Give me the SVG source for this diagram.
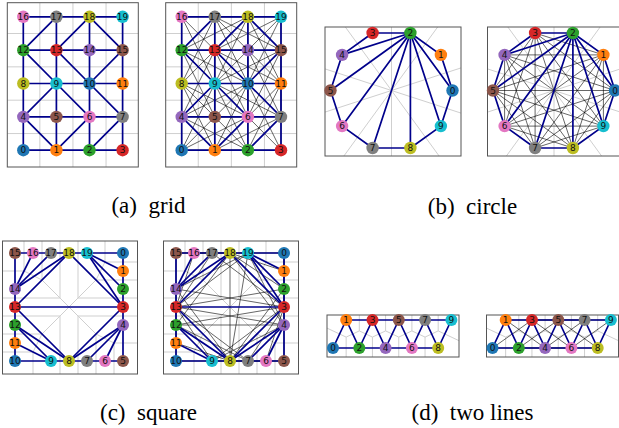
<svg xmlns="http://www.w3.org/2000/svg" width="619" height="428" viewBox="0 0 619 428">
<style>
.fr{fill:none;stroke:#555;stroke-width:1}
.gl{stroke:#cfcfcf;stroke-width:1;fill:none}
.be line{stroke:#00008b;stroke-width:1.7;stroke-linecap:round}
.ke line{stroke:#000;stroke-width:0.7;opacity:0.85}
.lb{font-family:"DejaVu Sans",sans-serif;font-size:9px;text-anchor:middle;dominant-baseline:central;fill:#111}
.cap{font-family:"Liberation Serif","Times New Roman",serif;font-size:23px;text-anchor:middle;fill:#000}
.c0{fill:#1f77b4}.c1{fill:#ff7f0e}.c2{fill:#2ca02c}.c3{fill:#d62728}.c4{fill:#9467bd}
.c5{fill:#8c564b}.c6{fill:#e377c2}.c7{fill:#7f7f7f}.c8{fill:#bcbd22}.c9{fill:#17becf}
</style>
<defs>
<clipPath id="clipB" clipPathUnits="userSpaceOnUse"><rect x="325" y="27" width="136" height="129"/></clipPath>
</defs>

<!-- ================= (a) grid, left ================= -->
<g id="panel-a1">
<g id="a1-voronoi" class="gl">
<line x1="39.85" y1="3" x2="39.85" y2="167"/><line x1="72.95" y1="3" x2="72.95" y2="167"/><line x1="106.05" y1="3" x2="106.05" y2="167"/>
<line x1="7.3" y1="133.55" x2="138.3" y2="133.55"/><line x1="7.3" y1="100.2" x2="138.3" y2="100.2"/><line x1="7.3" y1="66.85" x2="138.3" y2="66.85"/><line x1="7.3" y1="33.5" x2="138.3" y2="33.5"/>
</g>
<rect class="fr" x="7.3" y="2.7" width="131" height="164.3"/>
<g id="a1-edges" class="be">
<line x1="23.3" y1="150.2" x2="56.4" y2="150.2"/><line x1="56.4" y1="150.2" x2="89.5" y2="150.2"/><line x1="89.5" y1="150.2" x2="122.6" y2="150.2"/>
<line x1="23.3" y1="116.9" x2="56.4" y2="116.9"/><line x1="56.4" y1="116.9" x2="89.5" y2="116.9"/><line x1="89.5" y1="116.9" x2="122.6" y2="116.9"/>
<line x1="23.3" y1="83.5" x2="56.4" y2="83.5"/><line x1="56.4" y1="83.5" x2="89.5" y2="83.5"/><line x1="89.5" y1="83.5" x2="122.6" y2="83.5"/>
<line x1="23.3" y1="50.2" x2="56.4" y2="50.2"/><line x1="56.4" y1="50.2" x2="89.5" y2="50.2"/><line x1="89.5" y1="50.2" x2="122.6" y2="50.2"/>
<line x1="23.3" y1="16.8" x2="56.4" y2="16.8"/><line x1="56.4" y1="16.8" x2="89.5" y2="16.8"/><line x1="89.5" y1="16.8" x2="122.6" y2="16.8"/>
<line x1="23.3" y1="150.2" x2="23.3" y2="116.9"/><line x1="23.3" y1="116.9" x2="23.3" y2="83.5"/><line x1="23.3" y1="83.5" x2="23.3" y2="50.2"/><line x1="23.3" y1="50.2" x2="23.3" y2="16.8"/>
<line x1="56.4" y1="150.2" x2="56.4" y2="116.9"/><line x1="56.4" y1="116.9" x2="56.4" y2="83.5"/><line x1="56.4" y1="83.5" x2="56.4" y2="50.2"/><line x1="56.4" y1="50.2" x2="56.4" y2="16.8"/>
<line x1="89.5" y1="150.2" x2="89.5" y2="116.9"/><line x1="89.5" y1="116.9" x2="89.5" y2="83.5"/><line x1="89.5" y1="83.5" x2="89.5" y2="50.2"/><line x1="89.5" y1="50.2" x2="89.5" y2="16.8"/>
<line x1="122.6" y1="150.2" x2="122.6" y2="116.9"/><line x1="122.6" y1="116.9" x2="122.6" y2="83.5"/><line x1="122.6" y1="83.5" x2="122.6" y2="50.2"/><line x1="122.6" y1="50.2" x2="122.6" y2="16.8"/>
<line x1="56.4" y1="16.8" x2="23.3" y2="50.2"/><line x1="89.5" y1="16.8" x2="56.4" y2="50.2"/><line x1="89.5" y1="16.8" x2="122.6" y2="50.2"/>
<line x1="23.3" y1="50.2" x2="56.4" y2="83.5"/><line x1="56.4" y1="50.2" x2="89.5" y2="83.5"/><line x1="122.6" y1="50.2" x2="89.5" y2="83.5"/>
<line x1="56.4" y1="83.5" x2="23.3" y2="116.9"/><line x1="56.4" y1="83.5" x2="89.5" y2="116.9"/><line x1="89.5" y1="83.5" x2="122.6" y2="116.9"/>
<line x1="23.3" y1="116.9" x2="56.4" y2="150.2"/><line x1="89.5" y1="116.9" x2="56.4" y2="150.2"/><line x1="122.6" y1="116.9" x2="89.5" y2="150.2"/>
</g>
<g id="a1-nodes">
<g id="a1-n0"><circle class="c0" cx="23.3" cy="150.2" r="6.2"/><text class="lb" x="23.3" y="150.2">0</text></g>
<g id="a1-n1"><circle class="c1" cx="56.4" cy="150.2" r="6.2"/><text class="lb" x="56.4" y="150.2">1</text></g>
<g id="a1-n2"><circle class="c2" cx="89.5" cy="150.2" r="6.2"/><text class="lb" x="89.5" y="150.2">2</text></g>
<g id="a1-n3"><circle class="c3" cx="122.6" cy="150.2" r="6.2"/><text class="lb" x="122.6" y="150.2">3</text></g>
<g id="a1-n4"><circle class="c4" cx="23.3" cy="116.9" r="6.2"/><text class="lb" x="23.3" y="116.9">4</text></g>
<g id="a1-n5"><circle class="c5" cx="56.4" cy="116.9" r="6.2"/><text class="lb" x="56.4" y="116.9">5</text></g>
<g id="a1-n6"><circle class="c6" cx="89.5" cy="116.9" r="6.2"/><text class="lb" x="89.5" y="116.9">6</text></g>
<g id="a1-n7"><circle class="c7" cx="122.6" cy="116.9" r="6.2"/><text class="lb" x="122.6" y="116.9">7</text></g>
<g id="a1-n8"><circle class="c8" cx="23.3" cy="83.5" r="6.2"/><text class="lb" x="23.3" y="83.5">8</text></g>
<g id="a1-n9"><circle class="c9" cx="56.4" cy="83.5" r="6.2"/><text class="lb" x="56.4" y="83.5">9</text></g>
<g id="a1-n10"><circle class="c0" cx="89.5" cy="83.5" r="6.2"/><text class="lb" x="89.5" y="83.5">10</text></g>
<g id="a1-n11"><circle class="c1" cx="122.6" cy="83.5" r="6.2"/><text class="lb" x="122.6" y="83.5">11</text></g>
<g id="a1-n12"><circle class="c2" cx="23.3" cy="50.2" r="6.2"/><text class="lb" x="23.3" y="50.2">12</text></g>
<g id="a1-n13"><circle class="c3" cx="56.4" cy="50.2" r="6.2"/><text class="lb" x="56.4" y="50.2">13</text></g>
<g id="a1-n14"><circle class="c4" cx="89.5" cy="50.2" r="6.2"/><text class="lb" x="89.5" y="50.2">14</text></g>
<g id="a1-n15"><circle class="c5" cx="122.6" cy="50.2" r="6.2"/><text class="lb" x="122.6" y="50.2">15</text></g>
<g id="a1-n16"><circle class="c6" cx="23.3" cy="16.8" r="6.2"/><text class="lb" x="23.3" y="16.8">16</text></g>
<g id="a1-n17"><circle class="c7" cx="56.4" cy="16.8" r="6.2"/><text class="lb" x="56.4" y="16.8">17</text></g>
<g id="a1-n18"><circle class="c8" cx="89.5" cy="16.8" r="6.2"/><text class="lb" x="89.5" y="16.8">18</text></g>
<g id="a1-n19"><circle class="c9" cx="122.6" cy="16.8" r="6.2"/><text class="lb" x="122.6" y="16.8">19</text></g>
</g>
</g>

<!-- ================= (a) grid, right ================= -->
<g id="panel-a2" transform="translate(158.4,0)">
<g id="a2-voronoi" class="gl">
<line x1="39.85" y1="3" x2="39.85" y2="167"/><line x1="72.95" y1="3" x2="72.95" y2="167"/><line x1="106.05" y1="3" x2="106.05" y2="167"/>
<line x1="7.3" y1="133.55" x2="138.3" y2="133.55"/><line x1="7.3" y1="100.2" x2="138.3" y2="100.2"/><line x1="7.3" y1="66.85" x2="138.3" y2="66.85"/><line x1="7.3" y1="33.5" x2="138.3" y2="33.5"/>
</g>
<rect class="fr" x="7.3" y="2.7" width="131" height="164.3"/>
<g id="a2-edges">
<g class="ke">
<line x1="23.3" y1="150.2" x2="89.5" y2="150.2"/><line x1="23.3" y1="150.2" x2="56.4" y2="116.9"/><line x1="23.3" y1="150.2" x2="89.5" y2="116.9"/><line x1="23.3" y1="150.2" x2="23.3" y2="83.5"/><line x1="23.3" y1="150.2" x2="56.4" y2="83.5"/>
<line x1="56.4" y1="150.2" x2="122.6" y2="150.2"/><line x1="56.4" y1="150.2" x2="122.6" y2="116.9"/><line x1="56.4" y1="150.2" x2="23.3" y2="83.5"/><line x1="56.4" y1="150.2" x2="56.4" y2="83.5"/><line x1="56.4" y1="150.2" x2="89.5" y2="83.5"/>
<line x1="89.5" y1="150.2" x2="23.3" y2="116.9"/><line x1="89.5" y1="150.2" x2="56.4" y2="116.9"/><line x1="89.5" y1="150.2" x2="56.4" y2="83.5"/><line x1="89.5" y1="150.2" x2="89.5" y2="83.5"/><line x1="89.5" y1="150.2" x2="122.6" y2="83.5"/>
<line x1="122.6" y1="150.2" x2="89.5" y2="116.9"/><line x1="122.6" y1="150.2" x2="89.5" y2="83.5"/><line x1="122.6" y1="150.2" x2="122.6" y2="83.5"/>
<line x1="23.3" y1="116.9" x2="89.5" y2="116.9"/><line x1="23.3" y1="116.9" x2="89.5" y2="83.5"/><line x1="23.3" y1="116.9" x2="23.3" y2="50.2"/><line x1="23.3" y1="116.9" x2="56.4" y2="50.2"/>
<line x1="56.4" y1="116.9" x2="122.6" y2="116.9"/><line x1="56.4" y1="116.9" x2="23.3" y2="83.5"/><line x1="56.4" y1="116.9" x2="89.5" y2="83.5"/><line x1="56.4" y1="116.9" x2="23.3" y2="50.2"/><line x1="56.4" y1="116.9" x2="56.4" y2="50.2"/>
<line x1="89.5" y1="116.9" x2="23.3" y2="83.5"/><line x1="89.5" y1="116.9" x2="122.6" y2="83.5"/><line x1="89.5" y1="116.9" x2="23.3" y2="50.2"/><line x1="89.5" y1="116.9" x2="56.4" y2="50.2"/><line x1="89.5" y1="116.9" x2="89.5" y2="50.2"/><line x1="89.5" y1="116.9" x2="122.6" y2="50.2"/>
<line x1="122.6" y1="116.9" x2="56.4" y2="83.5"/><line x1="122.6" y1="116.9" x2="56.4" y2="50.2"/><line x1="122.6" y1="116.9" x2="89.5" y2="50.2"/><line x1="122.6" y1="116.9" x2="122.6" y2="50.2"/>
<line x1="23.3" y1="83.5" x2="89.5" y2="83.5"/><line x1="23.3" y1="83.5" x2="56.4" y2="50.2"/><line x1="23.3" y1="83.5" x2="23.3" y2="16.8"/><line x1="23.3" y1="83.5" x2="56.4" y2="16.8"/>
<line x1="56.4" y1="83.5" x2="122.6" y2="83.5"/><line x1="56.4" y1="83.5" x2="89.5" y2="50.2"/><line x1="56.4" y1="83.5" x2="122.6" y2="50.2"/><line x1="56.4" y1="83.5" x2="23.3" y2="16.8"/><line x1="56.4" y1="83.5" x2="56.4" y2="16.8"/><line x1="56.4" y1="83.5" x2="89.5" y2="16.8"/>
<line x1="89.5" y1="83.5" x2="23.3" y2="50.2"/><line x1="89.5" y1="83.5" x2="56.4" y2="16.8"/><line x1="89.5" y1="83.5" x2="89.5" y2="16.8"/><line x1="89.5" y1="83.5" x2="122.6" y2="16.8"/>
<line x1="122.6" y1="83.5" x2="56.4" y2="50.2"/><line x1="122.6" y1="83.5" x2="89.5" y2="50.2"/><line x1="122.6" y1="83.5" x2="89.5" y2="16.8"/><line x1="122.6" y1="83.5" x2="122.6" y2="16.8"/>
<line x1="23.3" y1="50.2" x2="89.5" y2="50.2"/><line x1="23.3" y1="50.2" x2="89.5" y2="16.8"/>
<line x1="56.4" y1="50.2" x2="122.6" y2="50.2"/><line x1="56.4" y1="50.2" x2="23.3" y2="16.8"/><line x1="56.4" y1="50.2" x2="122.6" y2="16.8"/>
<line x1="89.5" y1="50.2" x2="56.4" y2="16.8"/><line x1="89.5" y1="50.2" x2="122.6" y2="16.8"/>
<line x1="122.6" y1="50.2" x2="56.4" y2="16.8"/>
<line x1="23.3" y1="16.8" x2="89.5" y2="16.8"/><line x1="56.4" y1="16.8" x2="122.6" y2="16.8"/>
</g>
<g class="be">
<line x1="23.3" y1="150.2" x2="56.4" y2="150.2"/><line x1="56.4" y1="150.2" x2="89.5" y2="150.2"/><line x1="89.5" y1="150.2" x2="122.6" y2="150.2"/>
<line x1="23.3" y1="116.9" x2="56.4" y2="116.9"/><line x1="56.4" y1="116.9" x2="89.5" y2="116.9"/><line x1="89.5" y1="116.9" x2="122.6" y2="116.9"/>
<line x1="23.3" y1="83.5" x2="56.4" y2="83.5"/><line x1="56.4" y1="83.5" x2="89.5" y2="83.5"/><line x1="89.5" y1="83.5" x2="122.6" y2="83.5"/>
<line x1="23.3" y1="50.2" x2="56.4" y2="50.2"/><line x1="56.4" y1="50.2" x2="89.5" y2="50.2"/><line x1="89.5" y1="50.2" x2="122.6" y2="50.2"/>
<line x1="23.3" y1="16.8" x2="56.4" y2="16.8"/><line x1="56.4" y1="16.8" x2="89.5" y2="16.8"/><line x1="89.5" y1="16.8" x2="122.6" y2="16.8"/>
<line x1="23.3" y1="150.2" x2="23.3" y2="116.9"/><line x1="23.3" y1="116.9" x2="23.3" y2="83.5"/><line x1="23.3" y1="83.5" x2="23.3" y2="50.2"/><line x1="23.3" y1="50.2" x2="23.3" y2="16.8"/>
<line x1="56.4" y1="150.2" x2="56.4" y2="116.9"/><line x1="56.4" y1="116.9" x2="56.4" y2="83.5"/><line x1="56.4" y1="83.5" x2="56.4" y2="50.2"/><line x1="56.4" y1="50.2" x2="56.4" y2="16.8"/>
<line x1="89.5" y1="150.2" x2="89.5" y2="116.9"/><line x1="89.5" y1="116.9" x2="89.5" y2="83.5"/><line x1="89.5" y1="83.5" x2="89.5" y2="50.2"/><line x1="89.5" y1="50.2" x2="89.5" y2="16.8"/>
<line x1="122.6" y1="150.2" x2="122.6" y2="116.9"/><line x1="122.6" y1="116.9" x2="122.6" y2="83.5"/><line x1="122.6" y1="83.5" x2="122.6" y2="50.2"/><line x1="122.6" y1="50.2" x2="122.6" y2="16.8"/>
<line x1="56.4" y1="16.8" x2="23.3" y2="50.2"/><line x1="89.5" y1="16.8" x2="56.4" y2="50.2"/><line x1="89.5" y1="16.8" x2="122.6" y2="50.2"/>
<line x1="23.3" y1="50.2" x2="56.4" y2="83.5"/><line x1="56.4" y1="50.2" x2="89.5" y2="83.5"/><line x1="122.6" y1="50.2" x2="89.5" y2="83.5"/>
<line x1="56.4" y1="83.5" x2="23.3" y2="116.9"/><line x1="56.4" y1="83.5" x2="89.5" y2="116.9"/><line x1="89.5" y1="83.5" x2="122.6" y2="116.9"/>
<line x1="23.3" y1="116.9" x2="56.4" y2="150.2"/><line x1="89.5" y1="116.9" x2="56.4" y2="150.2"/><line x1="122.6" y1="116.9" x2="89.5" y2="150.2"/>
</g>
</g>
<g id="a2-nodes">
<g id="a2-n0"><circle class="c0" cx="23.3" cy="150.2" r="6.2"/><text class="lb" x="23.3" y="150.2">0</text></g>
<g id="a2-n1"><circle class="c1" cx="56.4" cy="150.2" r="6.2"/><text class="lb" x="56.4" y="150.2">1</text></g>
<g id="a2-n2"><circle class="c2" cx="89.5" cy="150.2" r="6.2"/><text class="lb" x="89.5" y="150.2">2</text></g>
<g id="a2-n3"><circle class="c3" cx="122.6" cy="150.2" r="6.2"/><text class="lb" x="122.6" y="150.2">3</text></g>
<g id="a2-n4"><circle class="c4" cx="23.3" cy="116.9" r="6.2"/><text class="lb" x="23.3" y="116.9">4</text></g>
<g id="a2-n5"><circle class="c5" cx="56.4" cy="116.9" r="6.2"/><text class="lb" x="56.4" y="116.9">5</text></g>
<g id="a2-n6"><circle class="c6" cx="89.5" cy="116.9" r="6.2"/><text class="lb" x="89.5" y="116.9">6</text></g>
<g id="a2-n7"><circle class="c7" cx="122.6" cy="116.9" r="6.2"/><text class="lb" x="122.6" y="116.9">7</text></g>
<g id="a2-n8"><circle class="c8" cx="23.3" cy="83.5" r="6.2"/><text class="lb" x="23.3" y="83.5">8</text></g>
<g id="a2-n9"><circle class="c9" cx="56.4" cy="83.5" r="6.2"/><text class="lb" x="56.4" y="83.5">9</text></g>
<g id="a2-n10"><circle class="c0" cx="89.5" cy="83.5" r="6.2"/><text class="lb" x="89.5" y="83.5">10</text></g>
<g id="a2-n11"><circle class="c1" cx="122.6" cy="83.5" r="6.2"/><text class="lb" x="122.6" y="83.5">11</text></g>
<g id="a2-n12"><circle class="c2" cx="23.3" cy="50.2" r="6.2"/><text class="lb" x="23.3" y="50.2">12</text></g>
<g id="a2-n13"><circle class="c3" cx="56.4" cy="50.2" r="6.2"/><text class="lb" x="56.4" y="50.2">13</text></g>
<g id="a2-n14"><circle class="c4" cx="89.5" cy="50.2" r="6.2"/><text class="lb" x="89.5" y="50.2">14</text></g>
<g id="a2-n15"><circle class="c5" cx="122.6" cy="50.2" r="6.2"/><text class="lb" x="122.6" y="50.2">15</text></g>
<g id="a2-n16"><circle class="c6" cx="23.3" cy="16.8" r="6.2"/><text class="lb" x="23.3" y="16.8">16</text></g>
<g id="a2-n17"><circle class="c7" cx="56.4" cy="16.8" r="6.2"/><text class="lb" x="56.4" y="16.8">17</text></g>
<g id="a2-n18"><circle class="c8" cx="89.5" cy="16.8" r="6.2"/><text class="lb" x="89.5" y="16.8">18</text></g>
<g id="a2-n19"><circle class="c9" cx="122.6" cy="16.8" r="6.2"/><text class="lb" x="122.6" y="16.8">19</text></g>
</g>
</g>

<!-- ================= (b) circle, left ================= -->
<g id="panel-b1">
<g id="b1-voronoi" class="gl" clip-path="url(#clipB)">
<line x1="581.7" y1="28.7" x2="201.3" y2="152.3"/><line x1="509.1" y1="-71.3" x2="273.9" y2="252.3"/><line x1="391.5" y1="0" x2="391.5" y2="200"/><line x1="273.9" y1="-71.3" x2="509.1" y2="252.3"/><line x1="201.3" y1="28.7" x2="581.7" y2="152.3"/>
</g>
<rect class="fr" x="325" y="27" width="136" height="129"/>
<g id="b1-edges" class="be">
<line x1="452.5" y1="90.5" x2="440.9" y2="54.9"/><line x1="440.9" y1="54.9" x2="410.4" y2="33"/><line x1="410.4" y1="33" x2="372.6" y2="33"/><line x1="372.6" y1="33" x2="342.1" y2="54.9"/><line x1="342.1" y1="54.9" x2="330.5" y2="90.5"/>
<line x1="330.5" y1="90.5" x2="342.1" y2="126.1"/><line x1="342.1" y1="126.1" x2="372.6" y2="148"/><line x1="372.6" y1="148" x2="410.4" y2="148"/><line x1="410.4" y1="148" x2="440.9" y2="126.1"/><line x1="440.9" y1="126.1" x2="452.5" y2="90.5"/>
<line x1="410.4" y1="33" x2="342.1" y2="54.9"/><line x1="410.4" y1="33" x2="330.5" y2="90.5"/><line x1="410.4" y1="33" x2="342.1" y2="126.1"/><line x1="410.4" y1="33" x2="372.6" y2="148"/><line x1="410.4" y1="33" x2="410.4" y2="148"/><line x1="410.4" y1="33" x2="440.9" y2="126.1"/><line x1="410.4" y1="33" x2="452.5" y2="90.5"/>
</g>
<g id="b1-nodes">
<g id="b1-n0"><circle class="c0" cx="452.5" cy="90.5" r="6.2"/><text class="lb" x="452.5" y="90.5">0</text></g>
<g id="b1-n1"><circle class="c1" cx="440.9" cy="54.9" r="6.2"/><text class="lb" x="440.9" y="54.9">1</text></g>
<g id="b1-n2"><circle class="c2" cx="410.4" cy="33" r="6.2"/><text class="lb" x="410.4" y="33">2</text></g>
<g id="b1-n3"><circle class="c3" cx="372.6" cy="33" r="6.2"/><text class="lb" x="372.6" y="33">3</text></g>
<g id="b1-n4"><circle class="c4" cx="342.1" cy="54.9" r="6.2"/><text class="lb" x="342.1" y="54.9">4</text></g>
<g id="b1-n5"><circle class="c5" cx="330.5" cy="90.5" r="6.2"/><text class="lb" x="330.5" y="90.5">5</text></g>
<g id="b1-n6"><circle class="c6" cx="342.1" cy="126.1" r="6.2"/><text class="lb" x="342.1" y="126.1">6</text></g>
<g id="b1-n7"><circle class="c7" cx="372.6" cy="148" r="6.2"/><text class="lb" x="372.6" y="148">7</text></g>
<g id="b1-n8"><circle class="c8" cx="410.4" cy="148" r="6.2"/><text class="lb" x="410.4" y="148">8</text></g>
<g id="b1-n9"><circle class="c9" cx="440.9" cy="126.1" r="6.2"/><text class="lb" x="440.9" y="126.1">9</text></g>
</g>
</g>

<!-- ================= (b) circle, right ================= -->
<g id="panel-b2" transform="translate(162.5,0)">
<g id="b2-voronoi" class="gl" clip-path="url(#clipB)">
<line x1="581.7" y1="28.7" x2="201.3" y2="152.3"/><line x1="509.1" y1="-71.3" x2="273.9" y2="252.3"/><line x1="391.5" y1="0" x2="391.5" y2="200"/><line x1="273.9" y1="-71.3" x2="509.1" y2="252.3"/><line x1="201.3" y1="28.7" x2="581.7" y2="152.3"/>
</g>
<rect class="fr" x="325" y="27" width="136" height="129"/>
<g id="b2-edges">
<g class="ke">
<line x1="452.5" y1="90.5" x2="372.6" y2="33"/><line x1="452.5" y1="90.5" x2="342.1" y2="54.9"/><line x1="452.5" y1="90.5" x2="330.5" y2="90.5"/><line x1="452.5" y1="90.5" x2="342.1" y2="126.1"/><line x1="452.5" y1="90.5" x2="372.6" y2="148"/><line x1="452.5" y1="90.5" x2="410.4" y2="148"/>
<line x1="440.9" y1="54.9" x2="372.6" y2="33"/><line x1="440.9" y1="54.9" x2="342.1" y2="54.9"/><line x1="440.9" y1="54.9" x2="330.5" y2="90.5"/><line x1="440.9" y1="54.9" x2="342.1" y2="126.1"/><line x1="440.9" y1="54.9" x2="372.6" y2="148"/><line x1="440.9" y1="54.9" x2="410.4" y2="148"/><line x1="440.9" y1="54.9" x2="440.9" y2="126.1"/>
<line x1="372.6" y1="33" x2="330.5" y2="90.5"/><line x1="372.6" y1="33" x2="342.1" y2="126.1"/><line x1="372.6" y1="33" x2="372.6" y2="148"/><line x1="372.6" y1="33" x2="410.4" y2="148"/><line x1="372.6" y1="33" x2="440.9" y2="126.1"/>
<line x1="342.1" y1="54.9" x2="342.1" y2="126.1"/><line x1="342.1" y1="54.9" x2="372.6" y2="148"/><line x1="342.1" y1="54.9" x2="410.4" y2="148"/><line x1="342.1" y1="54.9" x2="440.9" y2="126.1"/>
<line x1="330.5" y1="90.5" x2="372.6" y2="148"/><line x1="330.5" y1="90.5" x2="410.4" y2="148"/><line x1="330.5" y1="90.5" x2="440.9" y2="126.1"/>
<line x1="342.1" y1="126.1" x2="410.4" y2="148"/><line x1="342.1" y1="126.1" x2="440.9" y2="126.1"/>
<line x1="372.6" y1="148" x2="440.9" y2="126.1"/>
</g>
<g class="be">
<line x1="452.5" y1="90.5" x2="440.9" y2="54.9"/><line x1="440.9" y1="54.9" x2="410.4" y2="33"/><line x1="410.4" y1="33" x2="372.6" y2="33"/><line x1="372.6" y1="33" x2="342.1" y2="54.9"/><line x1="342.1" y1="54.9" x2="330.5" y2="90.5"/>
<line x1="330.5" y1="90.5" x2="342.1" y2="126.1"/><line x1="342.1" y1="126.1" x2="372.6" y2="148"/><line x1="372.6" y1="148" x2="410.4" y2="148"/><line x1="410.4" y1="148" x2="440.9" y2="126.1"/><line x1="440.9" y1="126.1" x2="452.5" y2="90.5"/>
<line x1="410.4" y1="33" x2="342.1" y2="54.9"/><line x1="410.4" y1="33" x2="330.5" y2="90.5"/><line x1="410.4" y1="33" x2="342.1" y2="126.1"/><line x1="410.4" y1="33" x2="372.6" y2="148"/><line x1="410.4" y1="33" x2="410.4" y2="148"/><line x1="410.4" y1="33" x2="440.9" y2="126.1"/><line x1="410.4" y1="33" x2="452.5" y2="90.5"/>
</g>
</g>
<g id="b2-nodes">
<g id="b2-n0"><circle class="c0" cx="452.5" cy="90.5" r="6.2"/><text class="lb" x="452.5" y="90.5">0</text></g>
<g id="b2-n1"><circle class="c1" cx="440.9" cy="54.9" r="6.2"/><text class="lb" x="440.9" y="54.9">1</text></g>
<g id="b2-n2"><circle class="c2" cx="410.4" cy="33" r="6.2"/><text class="lb" x="410.4" y="33">2</text></g>
<g id="b2-n3"><circle class="c3" cx="372.6" cy="33" r="6.2"/><text class="lb" x="372.6" y="33">3</text></g>
<g id="b2-n4"><circle class="c4" cx="342.1" cy="54.9" r="6.2"/><text class="lb" x="342.1" y="54.9">4</text></g>
<g id="b2-n5"><circle class="c5" cx="330.5" cy="90.5" r="6.2"/><text class="lb" x="330.5" y="90.5">5</text></g>
<g id="b2-n6"><circle class="c6" cx="342.1" cy="126.1" r="6.2"/><text class="lb" x="342.1" y="126.1">6</text></g>
<g id="b2-n7"><circle class="c7" cx="372.6" cy="148" r="6.2"/><text class="lb" x="372.6" y="148">7</text></g>
<g id="b2-n8"><circle class="c8" cx="410.4" cy="148" r="6.2"/><text class="lb" x="410.4" y="148">8</text></g>
<g id="b2-n9"><circle class="c9" cx="440.9" cy="126.1" r="6.2"/><text class="lb" x="440.9" y="126.1">9</text></g>
</g>
</g>

<!-- ================= (c) square, left ================= -->
<g id="panel-c1">
<g id="c1-voronoi" class="gl">
<polyline points="69,307 78,298 96,280 105,262"/><polyline points="69,307 60,298 42,280 24,271"/><polyline points="69,307 60,316 42,334 33,352"/><polyline points="69,307 78,316 96,334 114,343"/>
<line x1="24" y1="271" x2="24" y2="241"/><line x1="42" y1="280" x2="42" y2="241"/><line x1="60" y1="298" x2="60" y2="241"/><line x1="78" y1="298" x2="78" y2="241"/><line x1="105" y1="262" x2="105" y2="241"/>
<line x1="78" y1="298" x2="137.5" y2="298"/><line x1="96" y1="280" x2="137.5" y2="280"/><line x1="105" y1="262" x2="137.5" y2="262"/><line x1="78" y1="316" x2="137.5" y2="316"/><line x1="114" y1="343" x2="137.5" y2="343"/>
<line x1="24" y1="271" x2="2.5" y2="271"/><line x1="60" y1="298" x2="2.5" y2="298"/><line x1="60" y1="316" x2="2.5" y2="316"/><line x1="42" y1="334" x2="2.5" y2="334"/><line x1="33" y1="352" x2="2.5" y2="352"/>
<line x1="33" y1="352" x2="33" y2="374"/><line x1="60" y1="316" x2="60" y2="374"/><line x1="78" y1="316" x2="78" y2="374"/><line x1="96" y1="334" x2="96" y2="374"/><line x1="114" y1="343" x2="114" y2="374"/>
</g>
<rect class="fr" x="2.5" y="241" width="135" height="133"/>
<g id="c1-edges" class="be">
<line x1="123" y1="253" x2="123" y2="271"/><line x1="123" y1="271" x2="123" y2="289"/><line x1="123" y1="289" x2="123" y2="307"/><line x1="123" y1="307" x2="123" y2="325"/><line x1="123" y1="325" x2="123" y2="361"/>
<line x1="123" y1="361" x2="105" y2="361"/><line x1="105" y1="361" x2="87" y2="361"/><line x1="87" y1="361" x2="69" y2="361"/><line x1="69" y1="361" x2="51" y2="361"/><line x1="51" y1="361" x2="15" y2="361"/>
<line x1="15" y1="361" x2="15" y2="343"/><line x1="15" y1="343" x2="15" y2="325"/><line x1="15" y1="325" x2="15" y2="307"/><line x1="15" y1="307" x2="15" y2="289"/><line x1="15" y1="289" x2="15" y2="253"/>
<line x1="15" y1="253" x2="33" y2="253"/><line x1="33" y1="253" x2="51" y2="253"/><line x1="51" y1="253" x2="69" y2="253"/><line x1="69" y1="253" x2="87" y2="253"/><line x1="87" y1="253" x2="123" y2="253"/>
<line x1="15" y1="289" x2="33" y2="253"/><line x1="15" y1="289" x2="51" y2="253"/><line x1="15" y1="289" x2="69" y2="253"/><line x1="15" y1="307" x2="69" y2="253"/><line x1="15" y1="307" x2="123" y2="307"/><line x1="69" y1="253" x2="123" y2="307"/>
<line x1="87" y1="253" x2="123" y2="307"/><line x1="87" y1="253" x2="123" y2="271"/><line x1="87" y1="253" x2="123" y2="289"/>
<line x1="15" y1="343" x2="51" y2="361"/><line x1="15" y1="325" x2="51" y2="361"/><line x1="15" y1="325" x2="69" y2="361"/><line x1="15" y1="307" x2="69" y2="361"/><line x1="123" y1="307" x2="69" y2="361"/>
<line x1="123" y1="325" x2="69" y2="361"/><line x1="123" y1="325" x2="87" y2="361"/><line x1="123" y1="325" x2="105" y2="361"/>
</g>
<g id="c1-nodes">
<g id="c1-n0"><circle class="c0" cx="123" cy="253" r="6"/><text class="lb" x="123" y="253">0</text></g>
<g id="c1-n1"><circle class="c1" cx="123" cy="271" r="6"/><text class="lb" x="123" y="271">1</text></g>
<g id="c1-n2"><circle class="c2" cx="123" cy="289" r="6"/><text class="lb" x="123" y="289">2</text></g>
<g id="c1-n3"><circle class="c3" cx="123" cy="307" r="6"/><text class="lb" x="123" y="307">3</text></g>
<g id="c1-n4"><circle class="c4" cx="123" cy="325" r="6"/><text class="lb" x="123" y="325">4</text></g>
<g id="c1-n5"><circle class="c5" cx="123" cy="361" r="6"/><text class="lb" x="123" y="361">5</text></g>
<g id="c1-n6"><circle class="c6" cx="105" cy="361" r="6"/><text class="lb" x="105" y="361">6</text></g>
<g id="c1-n7"><circle class="c7" cx="87" cy="361" r="6"/><text class="lb" x="87" y="361">7</text></g>
<g id="c1-n8"><circle class="c8" cx="69" cy="361" r="6"/><text class="lb" x="69" y="361">8</text></g>
<g id="c1-n9"><circle class="c9" cx="51" cy="361" r="6"/><text class="lb" x="51" y="361">9</text></g>
<g id="c1-n10"><circle class="c0" cx="15" cy="361" r="6"/><text class="lb" x="15" y="361">10</text></g>
<g id="c1-n11"><circle class="c1" cx="15" cy="343" r="6"/><text class="lb" x="15" y="343">11</text></g>
<g id="c1-n12"><circle class="c2" cx="15" cy="325" r="6"/><text class="lb" x="15" y="325">12</text></g>
<g id="c1-n13"><circle class="c3" cx="15" cy="307" r="6"/><text class="lb" x="15" y="307">13</text></g>
<g id="c1-n14"><circle class="c4" cx="15" cy="289" r="6"/><text class="lb" x="15" y="289">14</text></g>
<g id="c1-n15"><circle class="c5" cx="15" cy="253" r="6"/><text class="lb" x="15" y="253">15</text></g>
<g id="c1-n16"><circle class="c6" cx="33" cy="253" r="6"/><text class="lb" x="33" y="253">16</text></g>
<g id="c1-n17"><circle class="c7" cx="51" cy="253" r="6"/><text class="lb" x="51" y="253">17</text></g>
<g id="c1-n18"><circle class="c8" cx="69" cy="253" r="6"/><text class="lb" x="69" y="253">18</text></g>
<g id="c1-n19"><circle class="c9" cx="87" cy="253" r="6"/><text class="lb" x="87" y="253">19</text></g>
</g>
</g>

<!-- ================= (c) square, right ================= -->
<g id="panel-c2" transform="translate(161,0)">
<g id="c2-voronoi" class="gl">
<polyline points="69,307 78,298 96,280 105,262"/><polyline points="69,307 60,298 42,280 24,271"/><polyline points="69,307 60,316 42,334 33,352"/><polyline points="69,307 78,316 96,334 114,343"/>
<line x1="24" y1="271" x2="24" y2="241"/><line x1="42" y1="280" x2="42" y2="241"/><line x1="60" y1="298" x2="60" y2="241"/><line x1="78" y1="298" x2="78" y2="241"/><line x1="105" y1="262" x2="105" y2="241"/>
<line x1="78" y1="298" x2="137.5" y2="298"/><line x1="96" y1="280" x2="137.5" y2="280"/><line x1="105" y1="262" x2="137.5" y2="262"/><line x1="78" y1="316" x2="137.5" y2="316"/><line x1="114" y1="343" x2="137.5" y2="343"/>
<line x1="24" y1="271" x2="2.5" y2="271"/><line x1="60" y1="298" x2="2.5" y2="298"/><line x1="60" y1="316" x2="2.5" y2="316"/><line x1="42" y1="334" x2="2.5" y2="334"/><line x1="33" y1="352" x2="2.5" y2="352"/>
<line x1="33" y1="352" x2="33" y2="374"/><line x1="60" y1="316" x2="60" y2="374"/><line x1="78" y1="316" x2="78" y2="374"/><line x1="96" y1="334" x2="96" y2="374"/><line x1="114" y1="343" x2="114" y2="374"/>
</g>
<rect class="fr" x="2.5" y="241" width="135" height="133"/>
<g id="c2-edges">
<g class="ke">
<line x1="123" y1="253" x2="123" y2="289"/><line x1="123" y1="253" x2="123" y2="307"/><line x1="123" y1="253" x2="69" y2="253"/>
<line x1="123" y1="271" x2="123" y2="307"/><line x1="123" y1="271" x2="69" y2="253"/>
<line x1="123" y1="289" x2="123" y2="325"/><line x1="123" y1="289" x2="69" y2="361"/><line x1="123" y1="289" x2="15" y2="307"/><line x1="123" y1="289" x2="69" y2="253"/>
<line x1="123" y1="307" x2="123" y2="361"/><line x1="123" y1="307" x2="105" y2="361"/><line x1="123" y1="307" x2="87" y2="361"/><line x1="123" y1="307" x2="51" y2="361"/><line x1="123" y1="307" x2="15" y2="325"/><line x1="123" y1="307" x2="15" y2="289"/><line x1="123" y1="307" x2="51" y2="253"/>
<line x1="123" y1="325" x2="51" y2="361"/><line x1="123" y1="325" x2="15" y2="325"/><line x1="123" y1="325" x2="15" y2="307"/><line x1="123" y1="325" x2="69" y2="253"/><line x1="123" y1="325" x2="87" y2="253"/>
<line x1="123" y1="361" x2="87" y2="361"/><line x1="123" y1="361" x2="69" y2="361"/>
<line x1="105" y1="361" x2="69" y2="361"/>
<line x1="87" y1="361" x2="51" y2="361"/><line x1="87" y1="361" x2="15" y2="325"/><line x1="87" y1="361" x2="15" y2="307"/>
<line x1="69" y1="361" x2="15" y2="361"/><line x1="69" y1="361" x2="15" y2="343"/><line x1="69" y1="361" x2="15" y2="289"/><line x1="69" y1="361" x2="69" y2="253"/><line x1="69" y1="361" x2="87" y2="253"/>
<line x1="51" y1="361" x2="15" y2="307"/>
<line x1="15" y1="361" x2="15" y2="325"/>
<line x1="15" y1="343" x2="15" y2="307"/>
<line x1="15" y1="325" x2="15" y2="289"/><line x1="15" y1="325" x2="69" y2="253"/>
<line x1="15" y1="307" x2="15" y2="253"/><line x1="15" y1="307" x2="33" y2="253"/><line x1="15" y1="307" x2="51" y2="253"/><line x1="15" y1="307" x2="87" y2="253"/>
<line x1="15" y1="289" x2="87" y2="253"/>
<line x1="15" y1="253" x2="51" y2="253"/><line x1="15" y1="253" x2="69" y2="253"/>
<line x1="33" y1="253" x2="69" y2="253"/>
<line x1="51" y1="253" x2="87" y2="253"/>
</g>
<g class="be">
<line x1="123" y1="253" x2="123" y2="271"/><line x1="123" y1="271" x2="123" y2="289"/><line x1="123" y1="289" x2="123" y2="307"/><line x1="123" y1="307" x2="123" y2="325"/><line x1="123" y1="325" x2="123" y2="361"/>
<line x1="123" y1="361" x2="105" y2="361"/><line x1="105" y1="361" x2="87" y2="361"/><line x1="87" y1="361" x2="69" y2="361"/><line x1="69" y1="361" x2="51" y2="361"/><line x1="51" y1="361" x2="15" y2="361"/>
<line x1="15" y1="361" x2="15" y2="343"/><line x1="15" y1="343" x2="15" y2="325"/><line x1="15" y1="325" x2="15" y2="307"/><line x1="15" y1="307" x2="15" y2="289"/><line x1="15" y1="289" x2="15" y2="253"/>
<line x1="15" y1="253" x2="33" y2="253"/><line x1="33" y1="253" x2="51" y2="253"/><line x1="51" y1="253" x2="69" y2="253"/><line x1="69" y1="253" x2="87" y2="253"/><line x1="87" y1="253" x2="123" y2="253"/>
<line x1="15" y1="289" x2="33" y2="253"/><line x1="15" y1="289" x2="51" y2="253"/><line x1="15" y1="289" x2="69" y2="253"/><line x1="15" y1="307" x2="69" y2="253"/><line x1="15" y1="307" x2="123" y2="307"/><line x1="69" y1="253" x2="123" y2="307"/>
<line x1="87" y1="253" x2="123" y2="307"/><line x1="87" y1="253" x2="123" y2="271"/><line x1="87" y1="253" x2="123" y2="289"/>
<line x1="15" y1="343" x2="51" y2="361"/><line x1="15" y1="325" x2="51" y2="361"/><line x1="15" y1="325" x2="69" y2="361"/><line x1="15" y1="307" x2="69" y2="361"/><line x1="123" y1="307" x2="69" y2="361"/>
<line x1="123" y1="325" x2="69" y2="361"/><line x1="123" y1="325" x2="87" y2="361"/><line x1="123" y1="325" x2="105" y2="361"/>
</g>
</g>
<g id="c2-nodes">
<g id="c2-n0"><circle class="c0" cx="123" cy="253" r="6"/><text class="lb" x="123" y="253">0</text></g>
<g id="c2-n1"><circle class="c1" cx="123" cy="271" r="6"/><text class="lb" x="123" y="271">1</text></g>
<g id="c2-n2"><circle class="c2" cx="123" cy="289" r="6"/><text class="lb" x="123" y="289">2</text></g>
<g id="c2-n3"><circle class="c3" cx="123" cy="307" r="6"/><text class="lb" x="123" y="307">3</text></g>
<g id="c2-n4"><circle class="c4" cx="123" cy="325" r="6"/><text class="lb" x="123" y="325">4</text></g>
<g id="c2-n5"><circle class="c5" cx="123" cy="361" r="6"/><text class="lb" x="123" y="361">5</text></g>
<g id="c2-n6"><circle class="c6" cx="105" cy="361" r="6"/><text class="lb" x="105" y="361">6</text></g>
<g id="c2-n7"><circle class="c7" cx="87" cy="361" r="6"/><text class="lb" x="87" y="361">7</text></g>
<g id="c2-n8"><circle class="c8" cx="69" cy="361" r="6"/><text class="lb" x="69" y="361">8</text></g>
<g id="c2-n9"><circle class="c9" cx="51" cy="361" r="6"/><text class="lb" x="51" y="361">9</text></g>
<g id="c2-n10"><circle class="c0" cx="15" cy="361" r="6"/><text class="lb" x="15" y="361">10</text></g>
<g id="c2-n11"><circle class="c1" cx="15" cy="343" r="6"/><text class="lb" x="15" y="343">11</text></g>
<g id="c2-n12"><circle class="c2" cx="15" cy="325" r="6"/><text class="lb" x="15" y="325">12</text></g>
<g id="c2-n13"><circle class="c3" cx="15" cy="307" r="6"/><text class="lb" x="15" y="307">13</text></g>
<g id="c2-n14"><circle class="c4" cx="15" cy="289" r="6"/><text class="lb" x="15" y="289">14</text></g>
<g id="c2-n15"><circle class="c5" cx="15" cy="253" r="6"/><text class="lb" x="15" y="253">15</text></g>
<g id="c2-n16"><circle class="c6" cx="33" cy="253" r="6"/><text class="lb" x="33" y="253">16</text></g>
<g id="c2-n17"><circle class="c7" cx="51" cy="253" r="6"/><text class="lb" x="51" y="253">17</text></g>
<g id="c2-n18"><circle class="c8" cx="69" cy="253" r="6"/><text class="lb" x="69" y="253">18</text></g>
<g id="c2-n19"><circle class="c9" cx="87" cy="253" r="6"/><text class="lb" x="87" y="253">19</text></g>
</g>
</g>

<!-- ================= (d) two lines, left ================= -->
<g id="panel-d1">
<g id="d1-voronoi" class="gl">
<polyline points="327,328.1 346.15,337.1 359.3,330.9 372.45,337.1 385.6,330.9 398.75,337.1 411.9,330.9 425.05,337.1 438.2,330.9 459,340.7"/>
<line x1="346.15" y1="337.1" x2="346.15" y2="357"/><line x1="372.45" y1="337.1" x2="372.45" y2="357"/><line x1="398.75" y1="337.1" x2="398.75" y2="357"/><line x1="425.05" y1="337.1" x2="425.05" y2="357"/>
<line x1="359.3" y1="330.9" x2="359.3" y2="315"/><line x1="385.6" y1="330.9" x2="385.6" y2="315"/><line x1="411.9" y1="330.9" x2="411.9" y2="315"/><line x1="438.2" y1="330.9" x2="438.2" y2="315"/>
</g>
<rect class="fr" x="327" y="315" width="132" height="42"/>
<g id="d1-edges" class="be">
<line x1="333" y1="348" x2="346.2" y2="320"/><line x1="346.2" y1="320" x2="359.3" y2="348"/><line x1="359.3" y1="348" x2="372.5" y2="320"/><line x1="372.5" y1="320" x2="385.6" y2="348"/><line x1="385.6" y1="348" x2="398.8" y2="320"/>
<line x1="398.8" y1="320" x2="411.9" y2="348"/><line x1="411.9" y1="348" x2="425.1" y2="320"/><line x1="425.1" y1="320" x2="438.2" y2="348"/><line x1="438.2" y1="348" x2="451.4" y2="320"/>
<line x1="333" y1="348" x2="359.3" y2="348"/><line x1="359.3" y1="348" x2="385.6" y2="348"/><line x1="385.6" y1="348" x2="411.9" y2="348"/><line x1="411.9" y1="348" x2="438.2" y2="348"/>
<line x1="346.2" y1="320" x2="372.5" y2="320"/><line x1="372.5" y1="320" x2="398.8" y2="320"/><line x1="398.8" y1="320" x2="425.1" y2="320"/><line x1="425.1" y1="320" x2="451.4" y2="320"/>
</g>
<g id="d1-nodes">
<g id="d1-n0"><circle class="c0" cx="333" cy="348" r="6"/><text class="lb" x="333" y="348">0</text></g>
<g id="d1-n1"><circle class="c1" cx="346.2" cy="320" r="6"/><text class="lb" x="346.2" y="320">1</text></g>
<g id="d1-n2"><circle class="c2" cx="359.3" cy="348" r="6"/><text class="lb" x="359.3" y="348">2</text></g>
<g id="d1-n3"><circle class="c3" cx="372.5" cy="320" r="6"/><text class="lb" x="372.5" y="320">3</text></g>
<g id="d1-n4"><circle class="c4" cx="385.6" cy="348" r="6"/><text class="lb" x="385.6" y="348">4</text></g>
<g id="d1-n5"><circle class="c5" cx="398.8" cy="320" r="6"/><text class="lb" x="398.8" y="320">5</text></g>
<g id="d1-n6"><circle class="c6" cx="411.9" cy="348" r="6"/><text class="lb" x="411.9" y="348">6</text></g>
<g id="d1-n7"><circle class="c7" cx="425.1" cy="320" r="6"/><text class="lb" x="425.1" y="320">7</text></g>
<g id="d1-n8"><circle class="c8" cx="438.2" cy="348" r="6"/><text class="lb" x="438.2" y="348">8</text></g>
<g id="d1-n9"><circle class="c9" cx="451.4" cy="320" r="6"/><text class="lb" x="451.4" y="320">9</text></g>
</g>
</g>

<!-- ================= (d) two lines, right ================= -->
<g id="panel-d2" transform="translate(159.5,0)">
<g id="d2-voronoi" class="gl">
<polyline points="327,328.1 346.15,337.1 359.3,330.9 372.45,337.1 385.6,330.9 398.75,337.1 411.9,330.9 425.05,337.1 438.2,330.9 459,340.7"/>
<line x1="346.15" y1="337.1" x2="346.15" y2="357"/><line x1="372.45" y1="337.1" x2="372.45" y2="357"/><line x1="398.75" y1="337.1" x2="398.75" y2="357"/><line x1="425.05" y1="337.1" x2="425.05" y2="357"/>
<line x1="359.3" y1="330.9" x2="359.3" y2="315"/><line x1="385.6" y1="330.9" x2="385.6" y2="315"/><line x1="411.9" y1="330.9" x2="411.9" y2="315"/><line x1="438.2" y1="330.9" x2="438.2" y2="315"/>
</g>
<rect class="fr" x="327" y="315" width="132" height="42"/>
<g id="d2-edges">
<g class="ke">
<line x1="333" y1="348" x2="372.5" y2="320"/><line x1="346.2" y1="320" x2="385.6" y2="348"/><line x1="359.3" y1="348" x2="398.8" y2="320"/><line x1="372.5" y1="320" x2="411.9" y2="348"/>
<line x1="385.6" y1="348" x2="425.1" y2="320"/><line x1="398.8" y1="320" x2="438.2" y2="348"/><line x1="411.9" y1="348" x2="451.4" y2="320"/>
<line x1="333" y1="348" x2="385.6" y2="348"/><line x1="359.3" y1="348" x2="411.9" y2="348"/><line x1="385.6" y1="348" x2="438.2" y2="348"/>
<line x1="346.2" y1="320" x2="398.8" y2="320"/><line x1="372.5" y1="320" x2="425.1" y2="320"/><line x1="398.8" y1="320" x2="451.4" y2="320"/>
</g>
<g class="be">
<line x1="333" y1="348" x2="346.2" y2="320"/><line x1="346.2" y1="320" x2="359.3" y2="348"/><line x1="359.3" y1="348" x2="372.5" y2="320"/><line x1="372.5" y1="320" x2="385.6" y2="348"/><line x1="385.6" y1="348" x2="398.8" y2="320"/>
<line x1="398.8" y1="320" x2="411.9" y2="348"/><line x1="411.9" y1="348" x2="425.1" y2="320"/><line x1="425.1" y1="320" x2="438.2" y2="348"/><line x1="438.2" y1="348" x2="451.4" y2="320"/>
<line x1="333" y1="348" x2="359.3" y2="348"/><line x1="359.3" y1="348" x2="385.6" y2="348"/><line x1="385.6" y1="348" x2="411.9" y2="348"/><line x1="411.9" y1="348" x2="438.2" y2="348"/>
<line x1="346.2" y1="320" x2="372.5" y2="320"/><line x1="372.5" y1="320" x2="398.8" y2="320"/><line x1="398.8" y1="320" x2="425.1" y2="320"/><line x1="425.1" y1="320" x2="451.4" y2="320"/>
</g>
</g>
<g id="d2-nodes">
<g id="d2-n0"><circle class="c0" cx="333" cy="348" r="6"/><text class="lb" x="333" y="348">0</text></g>
<g id="d2-n1"><circle class="c1" cx="346.2" cy="320" r="6"/><text class="lb" x="346.2" y="320">1</text></g>
<g id="d2-n2"><circle class="c2" cx="359.3" cy="348" r="6"/><text class="lb" x="359.3" y="348">2</text></g>
<g id="d2-n3"><circle class="c3" cx="372.5" cy="320" r="6"/><text class="lb" x="372.5" y="320">3</text></g>
<g id="d2-n4"><circle class="c4" cx="385.6" cy="348" r="6"/><text class="lb" x="385.6" y="348">4</text></g>
<g id="d2-n5"><circle class="c5" cx="398.8" cy="320" r="6"/><text class="lb" x="398.8" y="320">5</text></g>
<g id="d2-n6"><circle class="c6" cx="411.9" cy="348" r="6"/><text class="lb" x="411.9" y="348">6</text></g>
<g id="d2-n7"><circle class="c7" cx="425.1" cy="320" r="6"/><text class="lb" x="425.1" y="320">7</text></g>
<g id="d2-n8"><circle class="c8" cx="438.2" cy="348" r="6"/><text class="lb" x="438.2" y="348">8</text></g>
<g id="d2-n9"><circle class="c9" cx="451.4" cy="320" r="6"/><text class="lb" x="451.4" y="320">9</text></g>
</g>
</g>

<g id="captions">
<text class="cap" x="148.5" y="213">(a)&#160; grid</text>
<text class="cap" x="472.5" y="214">(b)&#160; circle</text>
<text class="cap" x="148.5" y="420">(c)&#160; square</text>
<text class="cap" x="472.5" y="420">(d)&#160; two lines</text>
</g>
</svg>
